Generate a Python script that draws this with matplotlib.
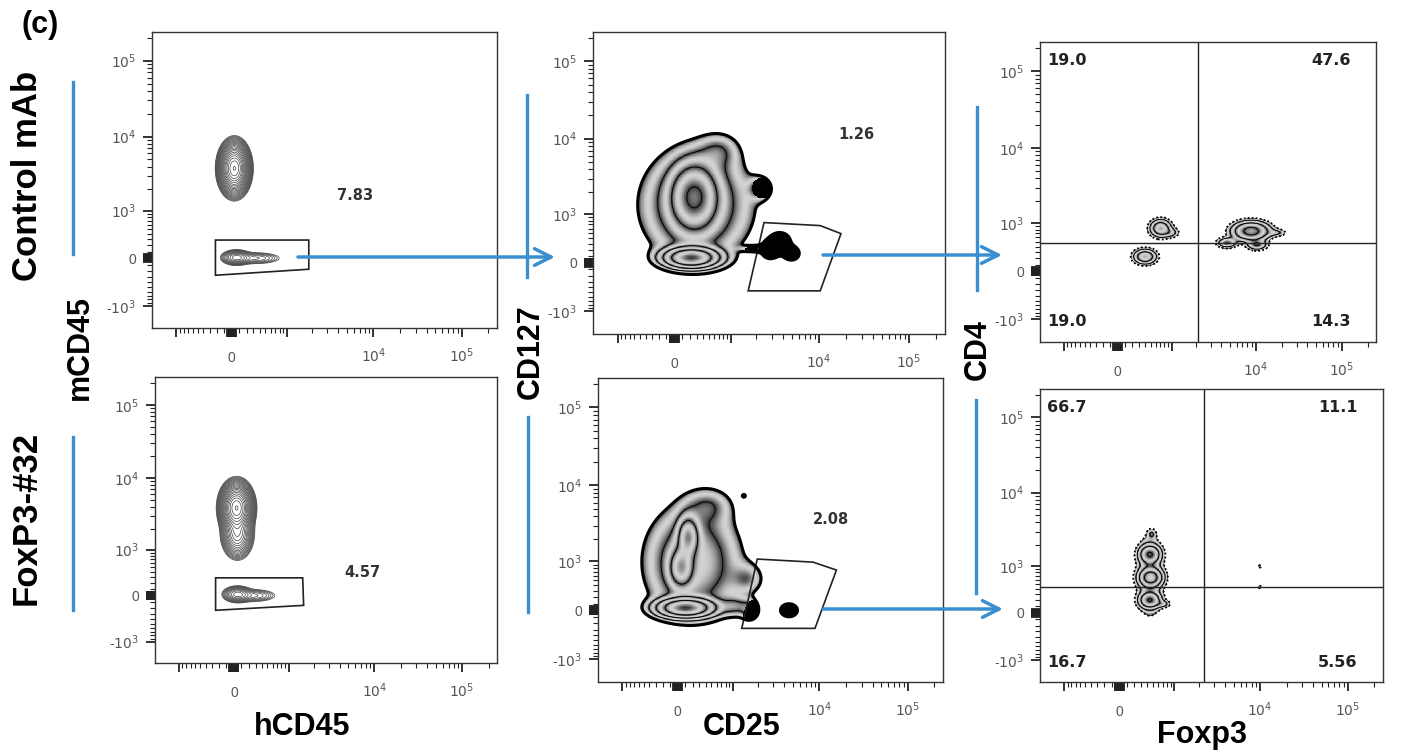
import matplotlib.pyplot as plt
import numpy as np
import matplotlib.transforms as mtransforms
from matplotlib.lines import Line2D
from matplotlib.patches import FancyArrowPatch, Polygon
from matplotlib.ticker import FixedLocator, FixedFormatter

plt.rcParams['font.family'] = ['Liberation Sans', 'DejaVu Sans']

W_PX, H_PX = 1403, 753
BLUE = '#3b8fd0'
INK = '#222222'

# arcsinh display with a linear region of ~500 units around zero
LIN = 500.0


def to_biex(v):
    return np.arcsinh(np.asarray(v, dtype=float) / LIN) / np.log(10)


def from_biex(u):
    return LIN * np.sinh(np.asarray(u, dtype=float) * np.log(10))


# populations: (x centre, y centre, x spread, y spread, height), spreads in decades
ctrl_hcd45_mcd45 = [
    (35, 3800, 0.065, 0.13, 1.0),
    (60, 10, 0.075, 0.045, 0.06),
    (330, 0, 0.15, 0.04, 0.02),
]
ab32_hcd45_mcd45 = [
    (35, 3900, 0.07, 0.13, 1.0),
    (45, 1700, 0.07, 0.13, 0.2),
    (45, 20, 0.075, 0.05, 0.06),
    (280, 0, 0.13, 0.045, 0.02),
]
ctrl_cd25_cd127 = [
    (265, 1750, 0.15, 0.25, 0.26),
    (225, 75, 0.17, 0.075, 0.65),
    (300, 1360, 0.42, 0.5, 0.1),
    (712, 7050, 0.15, 0.15, 0.04),
]
ctrl_cd25_cd127_sparse = [
    (2200, 2250, 0.08, 0.09, 0.06),
    (3770, 345, 0.08, 0.08, 0.06),
    (4975, 140, 0.07, 0.07, 0.06),
    (2915, 189, 0.07, 0.08, 0.06),
    (2200, 214, 0.12, 0.025, 0.06),
]
ab32_cd25_cd127 = [
    (105, 35, 0.18, 0.07, 0.65),
    (140, 2200, 0.07, 0.15, 0.2),
    (46, 815, 0.08, 0.15, 0.18),
    (200, 980, 0.37, 0.5, 0.1),
    (448, 5585, 0.18, 0.15, 0.04),
    (1540, 528, 0.12, 0.13, 0.04),
    (1060, 58, 0.1, 0.08, 0.05),
]
ab32_cd25_cd127_sparse = [
    (1612, 0, 0.07, 0.09, 0.06),
    (4535, 0, 0.08, 0.07, 0.06),
    (1360, 7350, 0.015, 0.015, 0.04),
]
ctrl_foxp3_cd4 = [
    (712, 835, 0.07, 0.065, 0.6),
    (980, 712, 0.06, 0.04, 0.15),
    (402, 226, 0.075, 0.055, 0.6),
    (8870, 755, 0.12, 0.07, 1.0),
    (4645, 480, 0.07, 0.04, 0.3),
    (10400, 433, 0.07, 0.04, 0.3),
    (17700, 712, 0.07, 0.03, 0.12),
]
ab32_foxp3_cd4 = [
    (448, 1465, 0.07, 0.07, 0.7),
    (463, 655, 0.075, 0.07, 1.0),
    (448, 200, 0.07, 0.06, 0.7),
    (448, 712, 0.09, 0.32, 0.2),
    (480, 2785, 0.03, 0.04, 0.1),
    (712, 140, 0.05, 0.03, 0.15),
    (9950, 980, 0.02, 0.02, 0.07),
    (9950, 440, 0.02, 0.02, 0.07),
]

# gates
ctrl_hcd45_gate = [(-217, 289), (1830, 289), (1830, -171), (-217, -271)]
ab32_hcd45_gate = [(-250, 292), (1480, 292), (1520, -157), (-250, -240)]
ctrl_cd25_gate = [(2445, 750), (10350, 672), (17600, 489), (10350, -468), (1612, -468)]
ab32_cd25_gate = [(1955, 1080), (8460, 977), (15600, 745), (8920, -280), (1280, -280)]
ctrl_quad_cut = (2100, 470)
ab32_quad_cut = (2300, 440)

# frequencies (%)
ctrl_gate_pct = [7.83, 1.26]
ab32_gate_pct = [4.57, 2.08]
ctrl_quad_pct = [19.0, 47.6, 19.0, 14.3]  # UL, UR, LL, LR
ab32_quad_pct = [66.7, 11.1, 16.7, 5.56]

decades = [-1e3, 0, 1e3, 1e4, 1e5]
zero_ticks = [s * k for k in range(10, 70, 10) for s in (-1, 1)]
minor_ticks = ([-k * 100 for k in range(1, 10)] + [k * 100 for k in range(1, 10)]
               + [k * 1e3 for k in range(2, 10)] + [k * 1e4 for k in range(2, 10)] + [2e5])
y_labels = ['-$10^{3}$', '0', '$10^{3}$', '$10^{4}$', '$10^{5}$']

fig = plt.figure(figsize=(W_PX / 100, H_PX / 100), dpi=100)

gu = np.linspace(-0.9, 3.0, 520)
gv = np.linspace(-0.92, 2.98, 520)
U, V = np.meshgrid(gu, gv)
X, Y = from_biex(U), from_biex(V)


def density(pops):
    z = np.zeros_like(U)
    for cx, cy, sx, sy, h in pops:
        z += h * np.exp(-0.5 * (((U - to_biex(cx)) / sx) ** 2 + ((V - to_biex(cy)) / sy) ** 2))
    return z


def fig_xy(px, py):
    return px / W_PX, 1 - py / H_PX


def biex_axes(l, t, r, b):
    ax = fig.add_axes([l / W_PX, 1 - b / H_PX, (r - l) / W_PX, (b - t) / H_PX])
    ax.set_xscale('function', functions=(to_biex, from_biex))
    ax.set_yscale('function', functions=(to_biex, from_biex))
    ax.set_xlim(from_biex(-0.9), from_biex(3.0))
    ax.set_ylim(from_biex(-0.92), from_biex(2.98))
    ax.xaxis.set_major_locator(FixedLocator(decades + zero_ticks))
    ax.xaxis.set_major_formatter(FixedFormatter([''] * (len(decades) + len(zero_ticks))))
    ax.yaxis.set_major_locator(FixedLocator(decades + zero_ticks))
    ax.yaxis.set_major_formatter(FixedFormatter(y_labels + [''] * len(zero_ticks)))
    ax.xaxis.set_minor_locator(FixedLocator(minor_ticks))
    ax.yaxis.set_minor_locator(FixedLocator(minor_ticks))
    ax.tick_params(which='major', direction='out', length=6.5, width=1.3, color=INK,
                   labelsize=10, labelcolor='#555555', pad=5)
    ax.tick_params(which='minor', direction='out', length=3.5, width=0.8, color=INK)
    for sp in ax.spines.values():
        sp.set_linewidth(1.0)
        sp.set_color('#333333')
    lab_tf = mtransforms.offset_copy(ax.get_xaxis_transform(), fig=fig, y=-34, units='dots')
    for v, s in zip([0, 1e4, 1e5], ['0', '$10^{4}$', '$10^{5}$']):
        ax.text(v, 0, s, transform=lab_tf, ha='center', va='baseline',
                fontsize=10, color='#555555')
    return ax


def contour_panel(ax, pops):
    z = density(pops)
    ax.contour(X, Y, z, levels=np.geomspace(0.004, 0.98, 22), colors='#404040', linewidths=0.5)


def zebra_panel(ax, pops, sparse, levels, outer_lw, outer_ls):
    zm = density(pops)
    zs = density(sparse) if sparse else np.zeros_like(zm)
    z = zm + zs
    lz = np.log(np.maximum(z, 1e-9))
    edges = np.log(levels)
    idx = np.clip(np.searchsorted(edges, lz, side='right') - 1, 0, len(edges) - 2)
    f = np.clip((lz - edges[idx]) / (edges[idx + 1] - edges[idx]), 0, 1)
    grey = 0.2 + 0.62 * np.sin(np.pi * f)
    grey = np.where(zs > zm, 0.0, grey)
    grey = np.ma.masked_where(z < levels[0], grey)
    ax.pcolormesh(X, Y, grey, cmap='gray', vmin=0, vmax=1, shading='nearest', rasterized=True)
    ax.contour(X, Y, z, levels=levels[1:-1], colors='k', linewidths=0.6)
    ax.contour(X, Y, z, levels=levels[:1], colors='k', linewidths=outer_lw, linestyles=[outer_ls])


def gate(ax, verts):
    ax.add_patch(Polygon(verts, closed=True, fill=False, edgecolor=INK, lw=1.2))


def pct_label(ax, fx, fy, val):
    ax.text(fx, fy, f'{val:.3g}', transform=ax.transAxes, ha='center', va='center',
            fontsize=10.5, fontweight='bold', color='#333333', family='DejaVu Sans')


def quadrants(ax, cut, pct):
    ax.axvline(cut[0], color=INK, lw=1.0)
    ax.axhline(cut[1], color=INK, lw=1.0)
    spots = [(0.02, 0.937, 'left'), (0.925, 0.937, 'right'),
             (0.02, 0.067, 'left'), (0.925, 0.067, 'right')]
    for (fx, fy, ha), val in zip(spots, pct):
        ax.text(fx, fy, f'{val:#.3g}', transform=ax.transAxes, ha=ha, va='center',
                fontsize=11.5, fontweight='bold', color=INK, family='DejaVu Sans')


zebra_levels = 0.03 * 2.2 ** np.arange(8)
dot_levels = 0.05 * 2.5 ** np.arange(6)

# row 1: Control mAb
ax1 = biex_axes(152, 32, 497, 328)
contour_panel(ax1, ctrl_hcd45_mcd45)
gate(ax1, ctrl_hcd45_gate)
pct_label(ax1, 0.588, 0.449, ctrl_gate_pct[0])

ax2 = biex_axes(593, 32, 945, 334)
zebra_panel(ax2, ctrl_cd25_cd127, ctrl_cd25_cd127_sparse, zebra_levels, 2.2, 'solid')
gate(ax2, ctrl_cd25_gate)
pct_label(ax2, 0.747, 0.659, ctrl_gate_pct[1])

ax3 = biex_axes(1040, 42, 1376, 342)
zebra_panel(ax3, ctrl_foxp3_cd4, None, dot_levels, 1.3, (0, (1, 1.2)))
quadrants(ax3, ctrl_quad_cut, ctrl_quad_pct)

# row 2: FoxP3-#32
ax4 = biex_axes(155, 377, 497, 663)
contour_panel(ax4, ab32_hcd45_mcd45)
gate(ax4, ab32_hcd45_gate)
pct_label(ax4, 0.608, 0.315, ab32_gate_pct[0])

ax5 = biex_axes(598, 378, 943, 682)
zebra_panel(ax5, ab32_cd25_cd127, ab32_cd25_cd127_sparse, zebra_levels, 2.2, 'solid')
gate(ax5, ab32_cd25_gate)
pct_label(ax5, 0.675, 0.533, ab32_gate_pct[1])

ax6 = biex_axes(1040, 389, 1383, 682)
zebra_panel(ax6, ab32_foxp3_cd4, None, dot_levels, 1.3, (0, (1, 1.2)))
quadrants(ax6, ab32_quad_cut, ab32_quad_pct)

# blue gating bars and arrows
for x, y0, y1 in [(73, 82, 254), (73, 437, 610), (527, 95, 277),
                  (528, 417, 612), (977, 107, 290), (976, 400, 593)]:
    fig.add_artist(Line2D([x / W_PX, x / W_PX], [1 - y0 / H_PX, 1 - y1 / H_PX],
                          transform=fig.transFigure, color=BLUE, lw=2.4, zorder=5))
for (xa, ya), (xb, yb) in [((298, 257), (555, 257)), ((823, 255), (1002, 255)),
                           ((823, 609), (1003, 609))]:
    fig.add_artist(FancyArrowPatch(fig_xy(xa, ya), fig_xy(xb, yb), transform=fig.transFigure,
                                   arrowstyle='->,head_length=0.6,head_width=0.3',
                                   mutation_scale=20, lw=2.5, color=BLUE,
                                   shrinkA=0, shrinkB=0, zorder=5))

# row titles and axis names
big = dict(fontweight='bold', color='black', ha='center', va='center')
fig.text(*fig_xy(40, 25), '(c)', fontsize=22, **big)
fig.text(*fig_xy(28, 176), 'Control mAb', fontsize=25, rotation=90, **big)
fig.text(*fig_xy(26, 518), 'FoxP3-#32', fontsize=25, rotation=90, **big)
fig.text(*fig_xy(80, 347), 'mCD45', fontsize=22, rotation=90, **big)
fig.text(*fig_xy(531, 352), 'CD127', fontsize=22, rotation=90, **big)
fig.text(*fig_xy(978, 350), 'CD4', fontsize=22, rotation=90, **big)
fig.text(*fig_xy(302, 727), 'hCD45', fontsize=22, **big)
fig.text(*fig_xy(742, 727), 'CD25', fontsize=22, **big)
fig.text(*fig_xy(1202, 735), 'Foxp3', fontsize=22, **big)

fig.savefig('out.png', dpi=100)
